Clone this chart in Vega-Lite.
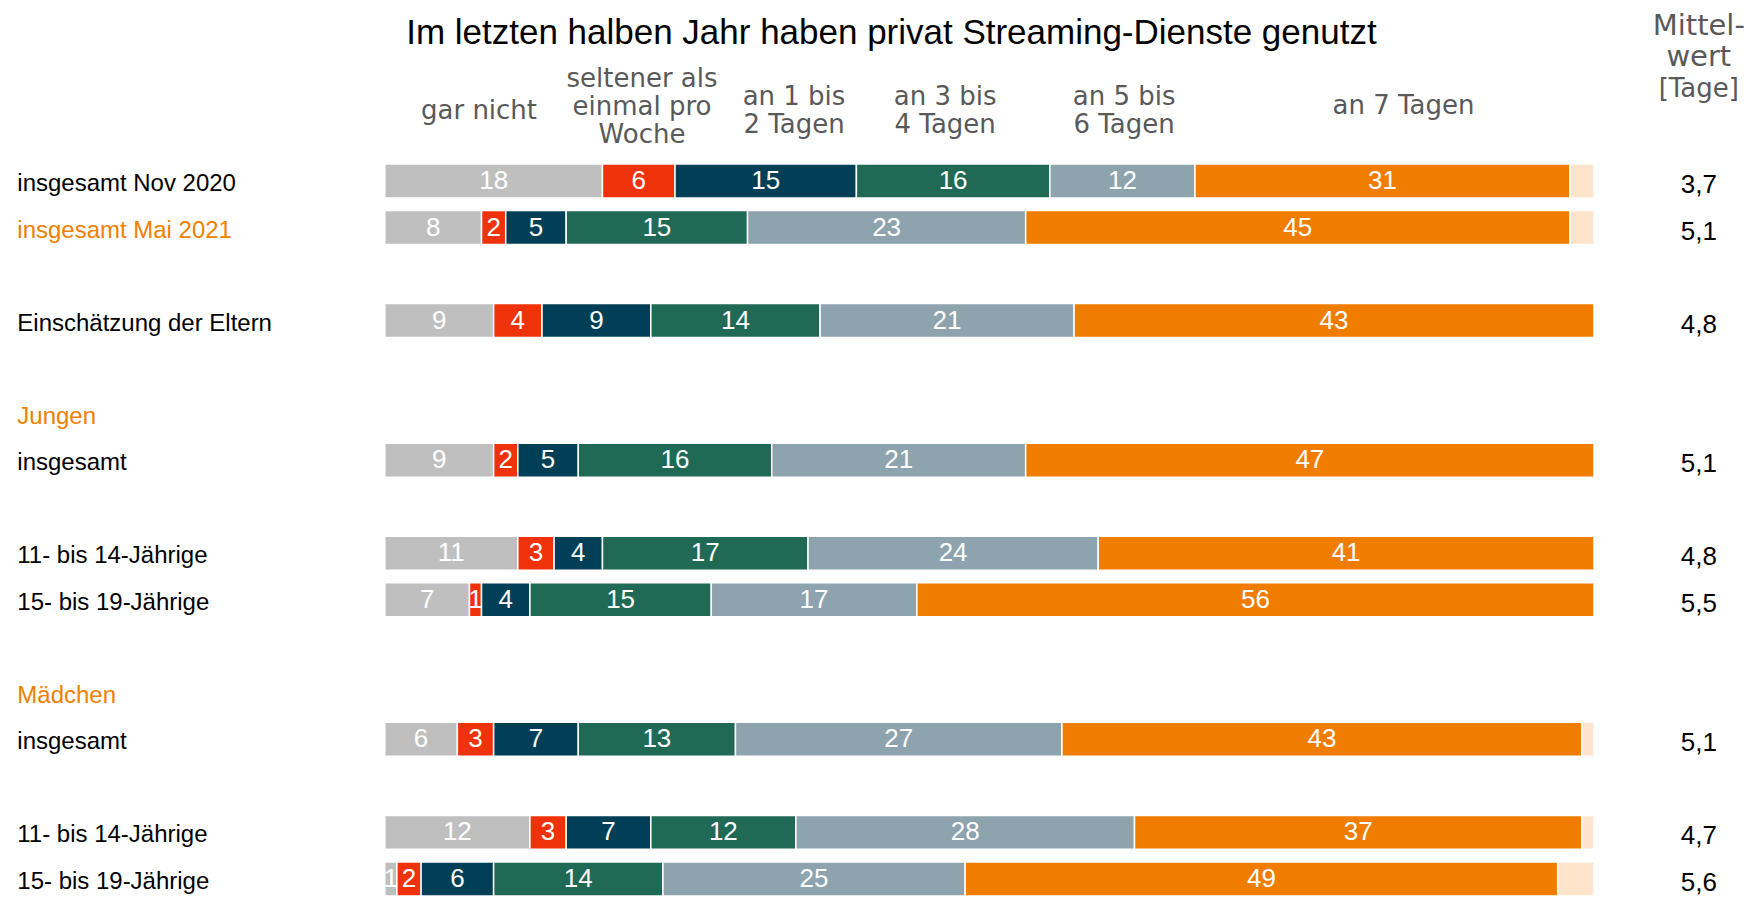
{
  "$schema": "https://vega.github.io/schema/vega-lite/v6.json",
  "padding": {"left": 16.8, "top": 12, "right": 0, "bottom": 0},
  "spacing": 54,
  "config": {
    "view": {"stroke": null},
    "locale": {"number": {"decimal": ",", "thousands": ".", "grouping": [3], "currency": ["", " €"]}}
  },
  "resolve": {"scale": {"y": "independent"}},
  "datasets": {
    "anteile": [
      {"zeile": "insgesamt Nov 2020", "nr": 1, "kat": "gar nicht", "wert": 18},
      {"zeile": "insgesamt Nov 2020", "nr": 2, "kat": "seltener als einmal pro Woche", "wert": 6},
      {"zeile": "insgesamt Nov 2020", "nr": 3, "kat": "an 1 bis 2 Tagen", "wert": 15},
      {"zeile": "insgesamt Nov 2020", "nr": 4, "kat": "an 3 bis 4 Tagen", "wert": 16},
      {"zeile": "insgesamt Nov 2020", "nr": 5, "kat": "an 5 bis 6 Tagen", "wert": 12},
      {"zeile": "insgesamt Nov 2020", "nr": 6, "kat": "an 7 Tagen", "wert": 31},
      {"zeile": "insgesamt Nov 2020", "nr": 7, "kat": "k.A.", "wert": 2},
      {"zeile": "insgesamt Mai 2021", "nr": 1, "kat": "gar nicht", "wert": 8},
      {"zeile": "insgesamt Mai 2021", "nr": 2, "kat": "seltener als einmal pro Woche", "wert": 2},
      {"zeile": "insgesamt Mai 2021", "nr": 3, "kat": "an 1 bis 2 Tagen", "wert": 5},
      {"zeile": "insgesamt Mai 2021", "nr": 4, "kat": "an 3 bis 4 Tagen", "wert": 15},
      {"zeile": "insgesamt Mai 2021", "nr": 5, "kat": "an 5 bis 6 Tagen", "wert": 23},
      {"zeile": "insgesamt Mai 2021", "nr": 6, "kat": "an 7 Tagen", "wert": 45},
      {"zeile": "insgesamt Mai 2021", "nr": 7, "kat": "k.A.", "wert": 2},
      {"zeile": "Einschätzung der Eltern", "nr": 1, "kat": "gar nicht", "wert": 9},
      {"zeile": "Einschätzung der Eltern", "nr": 2, "kat": "seltener als einmal pro Woche", "wert": 4},
      {"zeile": "Einschätzung der Eltern", "nr": 3, "kat": "an 1 bis 2 Tagen", "wert": 9},
      {"zeile": "Einschätzung der Eltern", "nr": 4, "kat": "an 3 bis 4 Tagen", "wert": 14},
      {"zeile": "Einschätzung der Eltern", "nr": 5, "kat": "an 5 bis 6 Tagen", "wert": 21},
      {"zeile": "Einschätzung der Eltern", "nr": 6, "kat": "an 7 Tagen", "wert": 43},
      {"zeile": "Jungen|insgesamt", "nr": 1, "kat": "gar nicht", "wert": 9},
      {"zeile": "Jungen|insgesamt", "nr": 2, "kat": "seltener als einmal pro Woche", "wert": 2},
      {"zeile": "Jungen|insgesamt", "nr": 3, "kat": "an 1 bis 2 Tagen", "wert": 5},
      {"zeile": "Jungen|insgesamt", "nr": 4, "kat": "an 3 bis 4 Tagen", "wert": 16},
      {"zeile": "Jungen|insgesamt", "nr": 5, "kat": "an 5 bis 6 Tagen", "wert": 21},
      {"zeile": "Jungen|insgesamt", "nr": 6, "kat": "an 7 Tagen", "wert": 47},
      {"zeile": "Jungen|11- bis 14-Jährige", "nr": 1, "kat": "gar nicht", "wert": 11},
      {"zeile": "Jungen|11- bis 14-Jährige", "nr": 2, "kat": "seltener als einmal pro Woche", "wert": 3},
      {"zeile": "Jungen|11- bis 14-Jährige", "nr": 3, "kat": "an 1 bis 2 Tagen", "wert": 4},
      {"zeile": "Jungen|11- bis 14-Jährige", "nr": 4, "kat": "an 3 bis 4 Tagen", "wert": 17},
      {"zeile": "Jungen|11- bis 14-Jährige", "nr": 5, "kat": "an 5 bis 6 Tagen", "wert": 24},
      {"zeile": "Jungen|11- bis 14-Jährige", "nr": 6, "kat": "an 7 Tagen", "wert": 41},
      {"zeile": "Jungen|15- bis 19-Jährige", "nr": 1, "kat": "gar nicht", "wert": 7},
      {"zeile": "Jungen|15- bis 19-Jährige", "nr": 2, "kat": "seltener als einmal pro Woche", "wert": 1},
      {"zeile": "Jungen|15- bis 19-Jährige", "nr": 3, "kat": "an 1 bis 2 Tagen", "wert": 4},
      {"zeile": "Jungen|15- bis 19-Jährige", "nr": 4, "kat": "an 3 bis 4 Tagen", "wert": 15},
      {"zeile": "Jungen|15- bis 19-Jährige", "nr": 5, "kat": "an 5 bis 6 Tagen", "wert": 17},
      {"zeile": "Jungen|15- bis 19-Jährige", "nr": 6, "kat": "an 7 Tagen", "wert": 56},
      {"zeile": "Mädchen|insgesamt", "nr": 1, "kat": "gar nicht", "wert": 6},
      {"zeile": "Mädchen|insgesamt", "nr": 2, "kat": "seltener als einmal pro Woche", "wert": 3},
      {"zeile": "Mädchen|insgesamt", "nr": 3, "kat": "an 1 bis 2 Tagen", "wert": 7},
      {"zeile": "Mädchen|insgesamt", "nr": 4, "kat": "an 3 bis 4 Tagen", "wert": 13},
      {"zeile": "Mädchen|insgesamt", "nr": 5, "kat": "an 5 bis 6 Tagen", "wert": 27},
      {"zeile": "Mädchen|insgesamt", "nr": 6, "kat": "an 7 Tagen", "wert": 43},
      {"zeile": "Mädchen|insgesamt", "nr": 7, "kat": "k.A.", "wert": 1},
      {"zeile": "Mädchen|11- bis 14-Jährige", "nr": 1, "kat": "gar nicht", "wert": 12},
      {"zeile": "Mädchen|11- bis 14-Jährige", "nr": 2, "kat": "seltener als einmal pro Woche", "wert": 3},
      {"zeile": "Mädchen|11- bis 14-Jährige", "nr": 3, "kat": "an 1 bis 2 Tagen", "wert": 7},
      {"zeile": "Mädchen|11- bis 14-Jährige", "nr": 4, "kat": "an 3 bis 4 Tagen", "wert": 12},
      {"zeile": "Mädchen|11- bis 14-Jährige", "nr": 5, "kat": "an 5 bis 6 Tagen", "wert": 28},
      {"zeile": "Mädchen|11- bis 14-Jährige", "nr": 6, "kat": "an 7 Tagen", "wert": 37},
      {"zeile": "Mädchen|11- bis 14-Jährige", "nr": 7, "kat": "k.A.", "wert": 1},
      {"zeile": "Mädchen|15- bis 19-Jährige", "nr": 1, "kat": "gar nicht", "wert": 1},
      {"zeile": "Mädchen|15- bis 19-Jährige", "nr": 2, "kat": "seltener als einmal pro Woche", "wert": 2},
      {"zeile": "Mädchen|15- bis 19-Jährige", "nr": 3, "kat": "an 1 bis 2 Tagen", "wert": 6},
      {"zeile": "Mädchen|15- bis 19-Jährige", "nr": 4, "kat": "an 3 bis 4 Tagen", "wert": 14},
      {"zeile": "Mädchen|15- bis 19-Jährige", "nr": 5, "kat": "an 5 bis 6 Tagen", "wert": 25},
      {"zeile": "Mädchen|15- bis 19-Jährige", "nr": 6, "kat": "an 7 Tagen", "wert": 49},
      {"zeile": "Mädchen|15- bis 19-Jährige", "nr": 7, "kat": "k.A.", "wert": 3}
    ],
    "mittel": [
      {"zeile": "insgesamt Nov 2020", "mittel": 3.7},
      {"zeile": "insgesamt Mai 2021", "mittel": 5.1},
      {"zeile": "Einschätzung der Eltern", "mittel": 4.8},
      {"zeile": "Jungen|insgesamt", "mittel": 5.1},
      {"zeile": "Jungen|11- bis 14-Jährige", "mittel": 4.8},
      {"zeile": "Jungen|15- bis 19-Jährige", "mittel": 5.5},
      {"zeile": "Mädchen|insgesamt", "mittel": 5.1},
      {"zeile": "Mädchen|11- bis 14-Jährige", "mittel": 4.7},
      {"zeile": "Mädchen|15- bis 19-Jährige", "mittel": 5.6}
    ]
  },
  "hconcat": [
    {
      "width": 1209.2,
      "height": 731.9,
      "title": {
        "text": "Im letzten halben Jahr haben privat Streaming-Dienste genutzt",
        "font": "Liberation Sans",
        "fontSize": 35,
        "fontWeight": "normal",
        "color": "#000000",
        "anchor": "middle",
        "dx": -98,
        "offset": 15
      },
      "data": {"name": "anteile"},
      "encoding": {
        "y": {
          "field": "zeile",
          "type": "nominal",
          "title": null,
          "scale": {
            "type": "band",
            "domain": ["insgesamt Nov 2020", "insgesamt Mai 2021", "_a", "Einschätzung der Eltern", "_b", "Jungen", "Jungen|insgesamt", "_c", "Jungen|11- bis 14-Jährige", "Jungen|15- bis 19-Jährige", "_d", "Mädchen", "Mädchen|insgesamt", "_e", "Mädchen|11- bis 14-Jährige", "Mädchen|15- bis 19-Jährige"],
            "paddingInner": 0.27,
            "paddingOuter": 0
          },
          "axis": {
            "orient": "left",
            "domain": false,
            "ticks": false,
            "tickSize": 0,
            "grid": false,
            "labelAlign": "left",
            "labelBaseline": "middle",
            "labelPadding": 368,
            "labelLimit": 400,
            "labelOffset": 3,
            "labelFont": "Liberation Sans",
            "labelFontSize": 24,
            "labelColor": {"expr": "datum.label == 'insgesamt Mai 2021' || datum.label == 'Jungen' || datum.label == 'Mädchen' ? '#f08000' : '#000000'"},
            "labelExpr": "indexof(datum.label, '_') == 0 ? '' : indexof(datum.label, '|') >= 0 ? slice(datum.label, indexof(datum.label, '|') + 1) : datum.label"
          }
        }
      },
      "layer": [
        {
          "mark": {"type": "bar", "stroke": "#ffffff", "strokeWidth": 1.5},
          "encoding": {
            "x": {
              "field": "wert",
              "type": "quantitative",
              "stack": "zero",
              "title": null,
              "scale": {"domain": [0, 100], "nice": false},
              "axis": {
                "orient": "top",
                "values": [7.75, 21.23, 33.8, 46.3, 61.1, 84.2],
                "labelExpr": "datum.value < 10 ? 'gar nicht' : datum.value < 25 ? ['seltener als', 'einmal pro', 'Woche'] : datum.value < 40 ? ['an 1 bis', '2 Tagen'] : datum.value < 50 ? ['an 3 bis', '4 Tagen'] : datum.value < 70 ? ['an 5 bis', '6 Tagen'] : 'an 7 Tagen'",
                "domain": false,
                "ticks": false,
                "tickSize": 0,
                "grid": false,
                "labelFont": "DejaVu Sans",
                "labelFontSize": 26,
                "labelLineHeight": 28,
                "labelColor": "#595959",
                "labelAlign": "center",
                "labelBaseline": "middle",
                "labelPadding": {"expr": "datum.value < 10 ? 53 : datum.value < 25 ? 85 : datum.value < 70 ? 67 : 58"},
                "labelOverlap": false,
                "labelFlush": false,
                "labelBound": false
              }
            },
            "color": {
              "field": "kat",
              "type": "nominal",
              "legend": null,
              "scale": {
                "domain": ["gar nicht", "seltener als einmal pro Woche", "an 1 bis 2 Tagen", "an 3 bis 4 Tagen", "an 5 bis 6 Tagen", "an 7 Tagen", "k.A."],
                "range": ["#bfbfbf", "#f0320a", "#003f55", "#1f6955", "#8da3ae", "#f07d00", "#fde4cb"]
              }
            },
            "order": {"field": "nr", "type": "quantitative"}
          }
        },
        {
          "transform": [{"filter": "datum.nr < 7"}],
          "mark": {
            "type": "text",
            "color": "#ffffff",
            "font": "Liberation Sans",
            "fontSize": 26,
            "baseline": "middle",
            "align": "center"
          },
          "encoding": {
            "x": {
              "field": "wert",
              "type": "quantitative",
              "stack": "zero",
              "bandPosition": 0.5,
              "title": null,
              "axis": {
                "orient": "top",
                "values": [7.75, 21.23, 33.8, 46.3, 61.1, 84.2],
                "labelExpr": "datum.value < 10 ? 'gar nicht' : datum.value < 25 ? ['seltener als', 'einmal pro', 'Woche'] : datum.value < 40 ? ['an 1 bis', '2 Tagen'] : datum.value < 50 ? ['an 3 bis', '4 Tagen'] : datum.value < 70 ? ['an 5 bis', '6 Tagen'] : 'an 7 Tagen'",
                "domain": false,
                "ticks": false,
                "tickSize": 0,
                "grid": false,
                "labelFont": "DejaVu Sans",
                "labelFontSize": 26,
                "labelLineHeight": 28,
                "labelColor": "#595959",
                "labelAlign": "center",
                "labelBaseline": "middle",
                "labelPadding": {"expr": "datum.value < 10 ? 53 : datum.value < 25 ? 85 : datum.value < 70 ? 67 : 58"},
                "labelOverlap": false,
                "labelFlush": false,
                "labelBound": false
              }
            },
            "text": {"field": "wert", "type": "quantitative"},
            "order": {"field": "nr", "type": "quantitative"}
          }
        }
      ]
    },
    {
      "width": 100,
      "height": 731.9,
      "title": {
        "text": ["Mittel-", "wert"],
        "subtitle": "[Tage]",
        "font": "DejaVu Sans",
        "fontSize": 29,
        "fontWeight": "normal",
        "color": "#595959",
        "lineHeight": 31,
        "subtitleFont": "DejaVu Sans",
        "subtitleFontSize": 26,
        "subtitleColor": "#595959",
        "subtitlePadding": 4,
        "anchor": "middle",
        "offset": 61.5
      },
      "data": {"name": "mittel"},
      "mark": {
        "type": "text",
        "font": "Liberation Sans",
        "fontSize": 26,
        "baseline": "middle",
        "dy": 4,
        "color": "#000000"
      },
      "encoding": {
        "y": {
          "field": "zeile",
          "type": "nominal",
          "title": null,
          "axis": null,
          "scale": {
            "type": "band",
            "domain": ["insgesamt Nov 2020", "insgesamt Mai 2021", "_a", "Einschätzung der Eltern", "_b", "Jungen", "Jungen|insgesamt", "_c", "Jungen|11- bis 14-Jährige", "Jungen|15- bis 19-Jährige", "_d", "Mädchen", "Mädchen|insgesamt", "_e", "Mädchen|11- bis 14-Jährige", "Mädchen|15- bis 19-Jährige"],
            "paddingInner": 0.27,
            "paddingOuter": 0
          }
        },
        "text": {"field": "mittel", "type": "quantitative", "format": ".1f"}
      }
    }
  ]
}
